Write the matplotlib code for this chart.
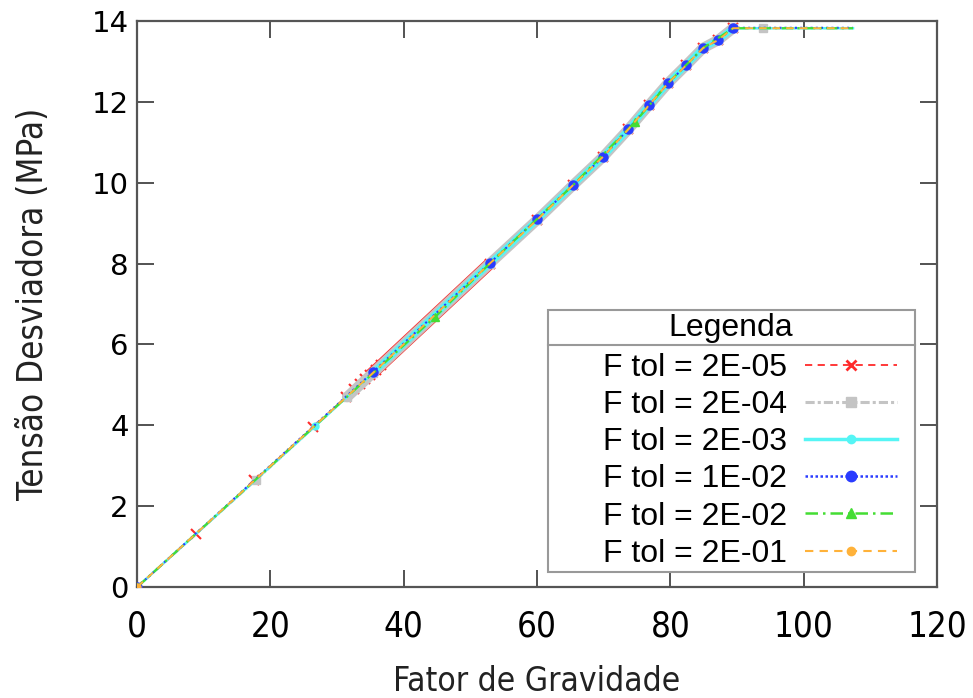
import matplotlib
matplotlib.use("Agg")
import matplotlib.pyplot as plt
from matplotlib.lines import Line2D
from matplotlib.patches import Rectangle

# ---- data ----
labels = ["F tol = 2E-05", "F tol = 2E-04", "F tol = 2E-03",
          "F tol = 1E-02", "F tol = 2E-02", "F tol = 2E-01"]

x_2e05 = [0, 8.8, 17.6, 26.4, 31.3, 32.6, 33.4, 34.2, 35.0, 35.8, 36.6, 52.9, 60.0, 65.4,
          69.9, 73.7, 76.8, 79.7, 82.4, 84.9, 87.2, 89.4, 107.4]
y_2e05 = [0, 1.30, 2.64, 3.96, 4.70, 4.90, 5.02, 5.14, 5.25, 5.37, 5.49, 8.00, 9.08, 9.94,
          10.64, 11.32, 11.92, 12.47, 12.91, 13.33, 13.53, 13.82, 13.82]

x_2e04 = [0, 17.9, 31.5, 35.4, 52.9, 60.0, 65.4, 69.9, 73.7, 76.8, 79.7, 82.4, 84.9, 87.2,
          89.4, 93.9, 107.4]
y_2e04 = [0, 2.65, 4.70, 5.30, 8.00, 9.08, 9.94, 10.64, 11.32, 11.92, 12.47, 12.91, 13.33,
          13.53, 13.82, 13.82, 13.82]

x_2e03 = [0, 26.7, 35.4, 52.9, 60.0, 65.4, 69.9, 73.7, 76.8, 79.7, 82.4, 84.9, 87.2, 89.4, 107.4]
y_2e03 = [0, 3.98, 5.30, 8.00, 9.08, 9.94, 10.64, 11.32, 11.92, 12.47, 12.91, 13.33, 13.53,
          13.82, 13.82]

x_1e02 = [0, 35.4, 52.9, 60.0, 65.4, 69.9, 73.7, 76.8, 79.7, 82.4, 84.9, 87.2, 89.4, 107.4]
y_1e02 = [0, 5.32, 8.01, 9.10, 9.94, 10.64, 11.33, 11.92, 12.47, 12.91, 13.33, 13.53, 13.83, 13.83]

x_2e02 = [0, 44.7, 52.9, 65.4, 74.7, 79.7, 84.9, 89.4, 107.4]
y_2e02 = [0, 6.68, 8.00, 9.94, 11.50, 12.47, 13.33, 13.82, 13.82]

x_2e01 = [0, 35.4, 52.9, 60.0, 65.4, 69.9, 73.7, 76.8, 79.7, 82.4, 84.9, 87.2, 89.4, 107.4]
y_2e01 = [0, 5.30, 8.00, 9.08, 9.94, 10.64, 11.32, 11.92, 12.47, 12.91, 13.33, 13.53, 13.82, 13.82]

x_ticks = [0, 20, 40, 60, 80, 100, 120]
y_ticks = [0, 2, 4, 6, 8, 10, 12, 14]

# ---- styles ----
red = "#ff2a2a"
gray = "#c4c4c4"
cyan = "#55f5f5"
blue = "#2a3cff"
green = "#44dd33"
orange = "#ffb23a"
cond = dict(family="DejaVu Sans", stretch="condensed")

fig = plt.figure(figsize=(9.73, 6.98), dpi=100)
ax = fig.add_axes([0.141, 0.159, 0.822, 0.811])

# dense-point regions (overlapping markers form a band) drawn as wide strokes
r0, r1 = x_2e05.index(35.0), x_2e05.index(52.9) + 1
ax.plot(x_2e05[r0:r1], y_2e05[r0:r1], color=red, lw=8.6, solid_capstyle="butt", zorder=1.5)
g0, g1 = x_2e04.index(31.5), x_2e04.index(89.4) + 1
ax.plot(x_2e04[g0:g1], y_2e04[g0:g1], color=gray, lw=7.6, solid_capstyle="round", zorder=2.5)
c0, c1 = x_2e03.index(35.4), x_2e03.index(89.4) + 1
ax.plot(x_2e03[c0:c1], y_2e03[c0:c1], color=cyan, lw=4.6, solid_capstyle="round", zorder=3.5)

ax.plot(x_2e05, y_2e05, color=red, ls=(0, (4, 3)), lw=1.2, marker="x", ms=7, mew=1.5,
        markevery=slice(0, len(x_2e05) - 1), zorder=2)
ax.plot(x_2e04, y_2e04, color=gray, ls=(0, (3, 1, 1, 1)), lw=1.5, marker="s", ms=6,
        markevery=slice(0, len(x_2e04) - 1), zorder=3)
ax.plot(x_2e03, y_2e03, color=cyan, ls="-", lw=1.8, marker="o", ms=5,
        markevery=slice(0, len(x_2e03) - 1), zorder=4)
ax.plot(x_1e02, y_1e02, color=blue, ls=(0, (1, 1.5)), lw=1.5, marker="o", ms=6.5,
        markevery=slice(0, len(x_1e02) - 1), zorder=5)
ax.plot(x_2e02, y_2e02, color=green, ls=(0, (5, 2, 1, 2)), lw=1.6, marker="^", ms=6,
        markevery=[0, 1, 4], zorder=6)
ax.plot(x_2e01, y_2e01, color=orange, ls=(0, (4, 3)), lw=1.4, marker="o", ms=5,
        markevery=[0], zorder=7)

ax.set_xlim(0, 120)
ax.set_ylim(0, 14)
ax.set_xticks(x_ticks)
ax.set_yticks(y_ticks)
ax.set_xticklabels([str(v) for v in x_ticks], fontsize=25, **cond)
ax.set_yticklabels([str(v) for v in y_ticks], family="DejaVu Sans", fontsize=21)
ax.tick_params(axis="both", direction="in", length=12, width=1.3, color="#444444",
               top=True, right=True)
ax.tick_params(axis="x", pad=16)
ax.tick_params(axis="y", pad=6)
for s in ax.spines.values():
    s.set_color("#555555")
    s.set_linewidth(1.6)

ax.set_xlabel("Fator de Gravidade", fontsize=24, color="#222222", labelpad=16, **cond)
ax.set_ylabel("Tensão Desviadora (MPa)", fontsize=25, color="#222222", labelpad=30, **cond)

# legend frame, title and separator (gnuplot-style key)
ax.add_patch(Rectangle((0.51375, 0.0265), 0.9725 - 0.51375, 0.4885 - 0.0265,
                       transform=ax.transAxes, facecolor="white", edgecolor="#999999",
                       lw=1.5, zorder=9))
ax.plot([0.51375, 0.9725], [0.4268, 0.4268], transform=ax.transAxes, color="#999999",
        lw=1.5, zorder=9.5)
ax.text(0.7425, 0.4568, "Legenda", transform=ax.transAxes, ha="center", va="center",
        family="Liberation Sans", fontsize=23, zorder=11)

handles = [
    Line2D([], [], color=red, ls=(0, (4, 3)), lw=1.3, marker="x", ms=7, mew=2),
    Line2D([], [], color=gray, ls=(0, (3, 1, 1, 1)), lw=2.2, marker="s", ms=7),
    Line2D([], [], color=cyan, ls="-", lw=2.5, marker="o", ms=6),
    Line2D([], [], color=blue, ls=(0, (1, 1)), lw=1.8, marker="o", ms=7.5),
    Line2D([], [], color=green, ls=(0, (5, 2, 1, 2)), lw=1.8, marker="^", ms=7),
    Line2D([], [], color=orange, ls=(0, (4, 3)), lw=1.5, marker="o", ms=6),
]
leg = ax.legend(handles, labels, loc="upper right", bbox_to_anchor=(0.95, 0.4136),
                prop={"family": "Liberation Sans", "size": 23},
                markerfirst=False, numpoints=1, handlelength=2.87, handletextpad=0.56,
                labelspacing=0.225, borderpad=0, borderaxespad=0, frameon=False)
leg.set_zorder(10)

fig.savefig("out.png", dpi=100)
